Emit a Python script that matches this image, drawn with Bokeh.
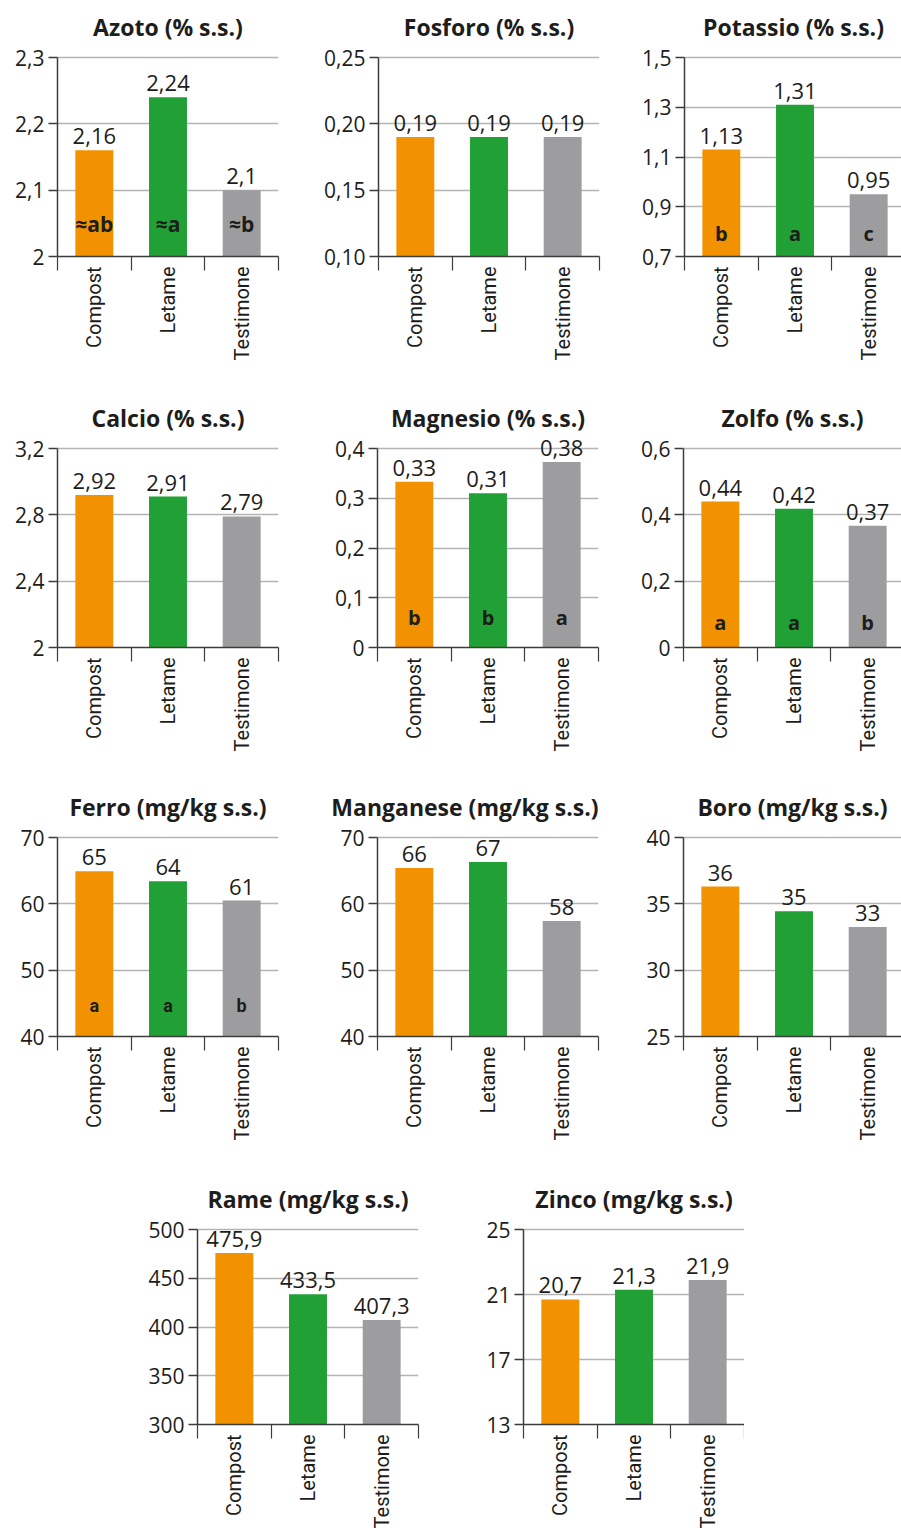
from math import pi
from bokeh.plotting import figure
from bokeh.models import (ColumnDataSource, Range1d, FixedTicker, LabelSet, Spacer)
from bokeh.layouts import column, row
from bokeh.core.properties import value
from bokeh.embed import file_html
from bokeh.resources import INLINE

# ---------------- data ----------------
categories = ["Compost", "Letame", "Testimone"]
bar_colors = ["#F39200", "#21A035", "#9D9D9F"]

azoto = [2.16, 2.24, 2.10]
azoto_labels = ["2,16", "2,24", "2,1"]
azoto_letters = ["≈ab", "≈a", "≈b"]
azoto_ticks = [2.0, 2.1, 2.2, 2.3]
azoto_tick_labels = ["2", "2,1", "2,2", "2,3"]

fosforo = [0.19, 0.19, 0.19]
fosforo_labels = ["0,19", "0,19", "0,19"]
fosforo_ticks = [0.10, 0.15, 0.20, 0.25]
fosforo_tick_labels = ["0,10", "0,15", "0,20", "0,25"]

potassio = [1.13, 1.31, 0.95]
potassio_labels = ["1,13", "1,31", "0,95"]
potassio_letters = ["b", "a", "c"]
potassio_ticks = [0.7, 0.9, 1.1, 1.3, 1.5]
potassio_tick_labels = ["0,7", "0,9", "1,1", "1,3", "1,5"]

calcio = [2.92, 2.91, 2.79]
calcio_labels = ["2,92", "2,91", "2,79"]
calcio_ticks = [2.0, 2.4, 2.8, 3.2]
calcio_tick_labels = ["2", "2,4", "2,8", "3,2"]

magnesio = [0.333, 0.31, 0.373]
magnesio_labels = ["0,33", "0,31", "0,38"]
magnesio_letters = ["b", "b", "a"]
magnesio_ticks = [0.0, 0.1, 0.2, 0.3, 0.4]
magnesio_tick_labels = ["0", "0,1", "0,2", "0,3", "0,4"]

zolfo = [0.44, 0.418, 0.367]
zolfo_labels = ["0,44", "0,42", "0,37"]
zolfo_letters = ["a", "a", "b"]
zolfo_ticks = [0.0, 0.2, 0.4, 0.6]
zolfo_tick_labels = ["0", "0,2", "0,4", "0,6"]

ferro = [64.9, 63.4, 60.5]
ferro_labels = ["65", "64", "61"]
ferro_letters = ["a", "a", "b"]
ferro_ticks = [40, 50, 60, 70]
ferro_tick_labels = ["40", "50", "60", "70"]

manganese = [65.4, 66.3, 57.4]
manganese_labels = ["66", "67", "58"]
manganese_ticks = [40, 50, 60, 70]
manganese_tick_labels = ["40", "50", "60", "70"]

boro = [36.3, 34.45, 33.26]
boro_labels = ["36", "35", "33"]
boro_ticks = [25, 30, 35, 40]
boro_tick_labels = ["25", "30", "35", "40"]

rame = [475.9, 433.5, 407.3]
rame_labels = ["475,9", "433,5", "407,3"]
rame_ticks = [300, 350, 400, 450, 500]
rame_tick_labels = ["300", "350", "400", "450", "500"]

zinco = [20.7, 21.3, 21.9]
zinco_labels = ["20,7", "21,3", "21,9"]
zinco_ticks = [13, 17, 21, 25]
zinco_tick_labels = ["13", "17", "21", "25"]

# ---------------- style ----------------
TXT = "#1d1d1b"
AX = "#3c3c3b"
GRID = "#b4b4b4"
NUM_FONT = "Open Sans"
CAT_FONT = "Roboto"
TITLE_FONT = "Open Sans"
CAT_PX = 221 / 3
HEAD = 14  # free pixels above the top tick (room for value labels)
TOP = 43


def chart(title, values, vlabels, ticks, tick_labels, pad, fw, fh,
          letters=None, letter_offset=28, letter_size="20px",
          letter_font="Open Sans", title_align="center"):
    left, right, top, bottom = pad
    n = len(categories)
    y0, y1 = ticks[0], ticks[-1]
    y_end = y1 + (y1 - y0) * HEAD / fh
    centers = [i + 0.5 for i in range(n)]
    p = figure(frame_width=fw, frame_height=fh + HEAD,
               x_range=Range1d(0, fw / CAT_PX), y_range=Range1d(y0, y_end),
               output_backend="svg", toolbar_location=None,
               min_border_left=left, min_border_right=right,
               min_border_top=top, min_border_bottom=bottom)
    p.outline_line_color = None
    p.background_fill_color = "white"
    p.border_fill_color = "white"

    src = ColumnDataSource(dict(
        x=centers, top=values, base=[y0] * n, color=bar_colors,
        vlabel=vlabels, letter=letters if letters else [""] * n))
    p.vbar(x="x", top="top", bottom="base", width=0.515,
           fill_color="color", line_color=None, source=src)

    p.add_layout(LabelSet(x="x", y="top", text="vlabel", source=src,
                          text_align="center", text_baseline="alphabetic",
                          y_offset=6, text_font=value(NUM_FONT),
                          text_font_size=value("22px"), text_color=TXT))
    if letters:
        p.add_layout(LabelSet(x="x", y="base", text="letter", source=src,
                              text_align="center", text_baseline="middle",
                              y_offset=letter_offset,
                              text_font=value(letter_font),
                              text_font_style="bold",
                              text_font_size=value(letter_size),
                              text_color=TXT))

    xa = p.xaxis[0]
    xa.ticker = FixedTicker(ticks=centers,
                            minor_ticks=[float(i) for i in range(n + 1)])
    xa.major_label_overrides = {c: lab for c, lab in zip(centers, categories)}
    xa.major_tick_out = 0
    xa.major_tick_in = 0
    xa.major_tick_line_color = None
    xa.minor_tick_out = 14
    xa.minor_tick_in = 0
    xa.minor_tick_line_color = AX
    xa.minor_tick_line_width = 1.2
    xa.axis_line_color = AX
    xa.axis_line_width = 1.5
    xa.major_label_orientation = pi / 2
    xa.major_label_standoff = -4
    xa.major_label_text_font = CAT_FONT
    xa.major_label_text_font_size = "20px"
    xa.major_label_text_color = TXT

    ya = p.yaxis[0]
    ya.ticker = FixedTicker(ticks=ticks)
    ya.bounds = (y0, y1)
    ya.major_label_overrides = dict(zip(ticks, tick_labels))
    ya.major_tick_out = 9
    ya.major_tick_in = 0
    ya.major_tick_line_color = AX
    ya.major_tick_line_width = 1.5
    ya.minor_tick_line_color = None
    ya.axis_line_color = AX
    ya.axis_line_width = 1.5
    ya.major_label_standoff = 4
    ya.major_label_text_font = NUM_FONT
    ya.major_label_text_font_size = "21px"
    ya.major_label_text_color = TXT

    p.xgrid.visible = False
    p.ygrid.ticker = FixedTicker(ticks=ticks)
    p.ygrid.grid_line_color = GRID
    p.ygrid.grid_line_width = 1.5

    p.title.text = title
    p.title.text_font = TITLE_FONT
    p.title.text_font_style = "bold"
    p.title.text_font_size = "23px"
    p.title.text_color = TXT
    p.title.align = title_align
    p.title.standoff = 2
    return p


r1 = row(
    chart("Azoto (% s.s.)", azoto, azoto_labels, azoto_ticks, azoto_tick_labels,
          (57, 43, TOP, 135), 221, 199, letters=azoto_letters, letter_offset=33,
          letter_size="21px"),
    chart("Fosforo (% s.s.)", fosforo, fosforo_labels, fosforo_ticks,
          fosforo_tick_labels, (56, 36, TOP, 135), 221, 199),
    chart("Potassio (% s.s.)", potassio, potassio_labels, potassio_ticks,
          potassio_tick_labels, (49, 0, TOP, 135), 218, 199,
          letters=potassio_letters, letter_offset=23),
)
r2 = row(
    chart("Calcio (% s.s.)", calcio, calcio_labels, calcio_ticks,
          calcio_tick_labels, (57, 43, TOP, 133), 221, 199),
    chart("Magnesio (% s.s.)", magnesio, magnesio_labels, magnesio_ticks,
          magnesio_tick_labels, (56, 36, TOP, 133), 221, 199,
          letters=magnesio_letters, letter_offset=30),
    chart("Zolfo (% s.s.)", zolfo, zolfo_labels, zolfo_ticks,
          zolfo_tick_labels, (49, 0, TOP, 133), 218, 199,
          letters=zolfo_letters, letter_offset=25),
)
r3 = row(
    chart("Ferro (mg/kg s.s.)", ferro, ferro_labels, ferro_ticks,
          ferro_tick_labels, (57, 43, TOP, 136), 221, 199,
          letters=ferro_letters, letter_offset=31, letter_size="18px",
          letter_font="Roboto"),
    chart("Manganese (mg/kg s.s.)", manganese, manganese_labels,
          manganese_ticks, manganese_tick_labels, (56, 36, TOP, 136), 221, 199,
          title_align="right"),
    chart("Boro (mg/kg s.s.)", boro, boro_labels, boro_ticks,
          boro_tick_labels, (49, 0, TOP, 136), 218, 199),
)
r4 = row(
    Spacer(width=141, height=10),
    chart("Rame (mg/kg s.s.)", rame, rame_labels, rame_ticks,
          rame_tick_labels, (56, 49, TOP, 0), 221, 195),
    chart("Zinco (mg/kg s.s.)", zinco, zinco_labels, zinco_ticks,
          zinco_tick_labels, (56, 0, TOP, 0), 221, 195),
)

layout = column(r1, r2, r3, r4)
open("out.html", "w").write(file_html(layout, INLINE))
